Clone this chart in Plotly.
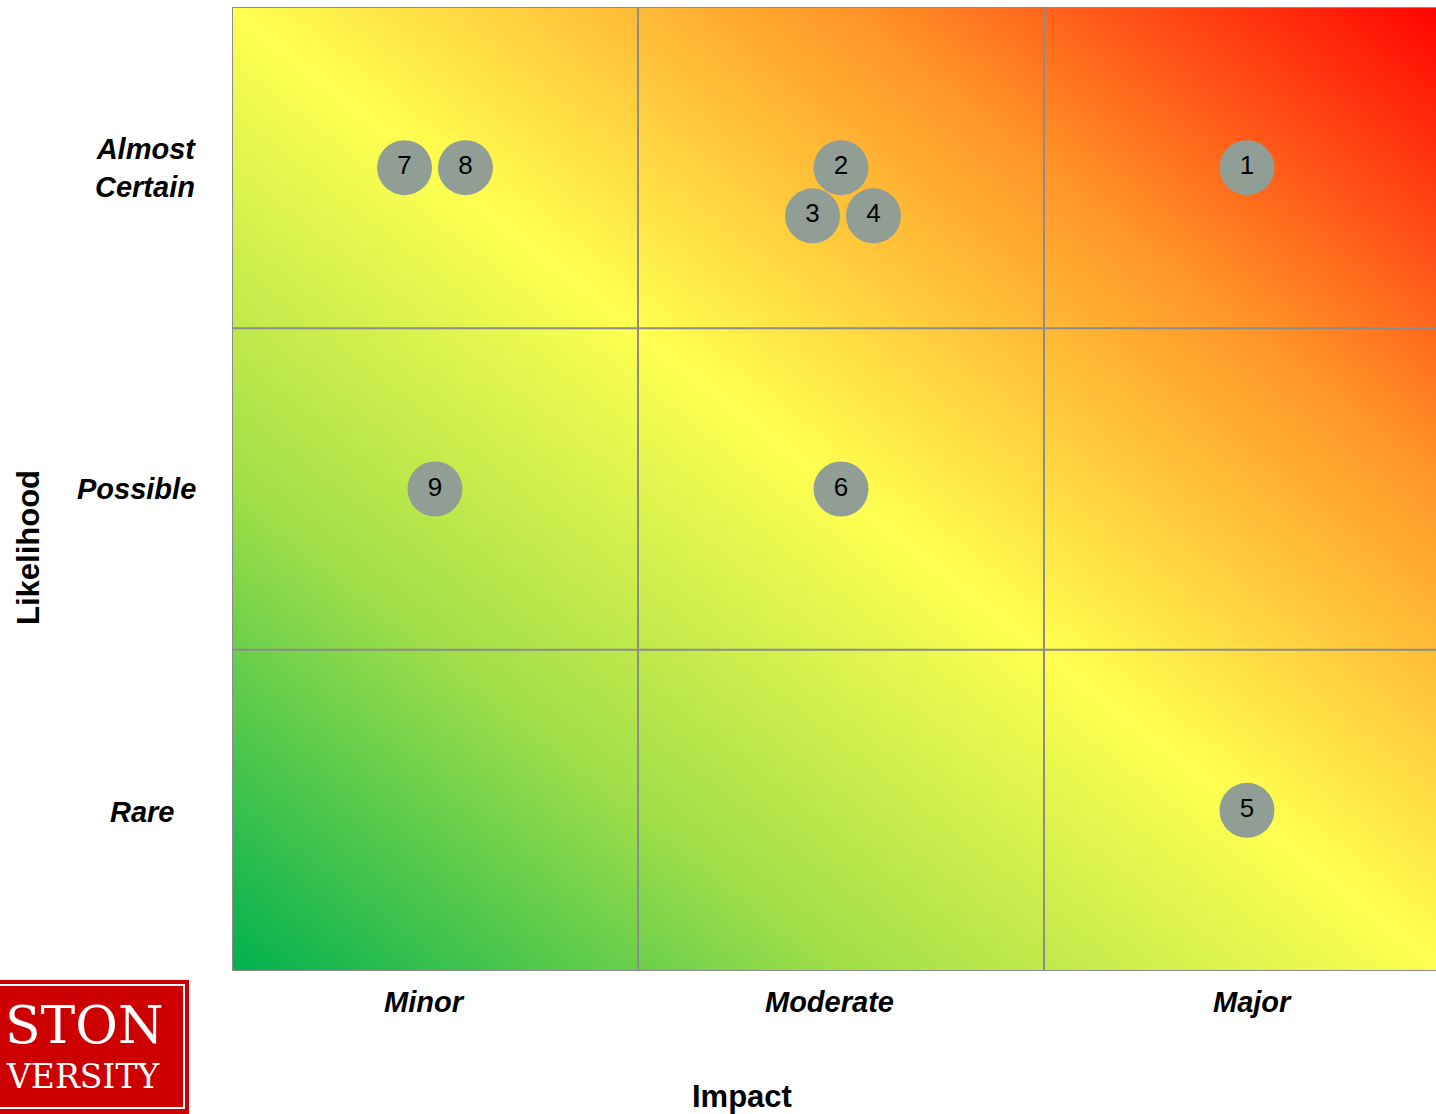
import numpy as np
import plotly.graph_objects as go

# Risk matrix axes
impact_levels = ["Minor", "Moderate", "Major"]
likelihood_levels = ["Rare", "Possible", "Almost Certain"]

# Numbered risks: impact score (0-3) and likelihood score (0-3)
risk_ids = ["1", "2", "3", "4", "5", "6", "7", "8", "9"]
impact_score = [2.50, 1.50, 1.43, 1.58, 2.50, 1.50, 0.425, 0.575, 0.50]
likelihood_score = [2.50, 2.50, 2.35, 2.35, 0.50, 1.50, 2.50, 2.50, 1.50]

# Layout in pixels
W, H = 1436, 1114
L, T, B = 232, 7, 143
CELL_W = 406
plot_w = W - L
x_max = plot_w / CELL_W

GRID = "#8C8C8C"
BUBBLE = "#909E96"
FONT = "Liberation Sans, Arial, sans-serif"
SERIF = "DejaVu Serif, Liberation Serif, serif"

# Diagonal risk gradient over the full 3x3 matrix
n = 240
gx = np.linspace(0, 3, n)
gy = np.linspace(0, 3, n)
GX, GY = np.meshgrid(gx, gy)
heat = (GX / 3 + GY / 3) / 2
scale = [
    [0.0, "rgb(0,176,80)"],
    [0.25, "rgb(158,222,72)"],
    [0.5, "rgb(255,255,80)"],
    [0.75, "rgb(255,150,40)"],
    [1.0, "rgb(255,0,0)"],
]

fig = go.Figure()
fig.add_trace(go.Heatmap(
    x=gx, y=gy, z=heat, colorscale=scale, zmin=0, zmax=1,
    zsmooth="best", showscale=False, hoverinfo="skip",
))
fig.add_trace(go.Scatter(
    x=impact_score, y=likelihood_score, text=risk_ids,
    mode="markers+text", textposition="middle center",
    marker=dict(size=55, color=BUBBLE, line=dict(width=0)),
    textfont=dict(family=FONT, size=26, color="#000000"),
    hoverinfo="skip", showlegend=False,
))

shapes = []
for v in [0, 1, 2]:
    shapes.append(dict(type="line", xref="x", yref="y", x0=v, x1=v, y0=0, y1=3,
                       line=dict(color=GRID, width=2)))
for v in [0, 1, 2, 3]:
    shapes.append(dict(type="line", xref="x", yref="y", x0=0, x1=3, y0=v, y1=v,
                       line=dict(color=GRID, width=2)))

# Logo block in the lower-left corner
def px_x(p):
    return (p - L) / plot_w

def px_y(p):
    return (H - B - p) / (H - T - B)

shapes.append(dict(type="rect", xref="paper", yref="paper",
                   x0=px_x(-5), x1=px_x(189), y0=px_y(1120), y1=px_y(980),
                   fillcolor="#CC0000", line=dict(width=0), layer="above"))
shapes.append(dict(type="rect", xref="paper", yref="paper",
                   x0=px_x(-10), x1=px_x(184), y0=px_y(1108), y1=px_y(985),
                   fillcolor="rgba(0,0,0,0)", line=dict(color="white", width=2), layer="above"))

annotations = []
# Likelihood labels
annotations.append(dict(xref="paper", yref="y", x=0, y=2.5, xshift=-34, xanchor="right",
                        yanchor="middle", align="right", showarrow=False,
                        text="<b><i>Almost<br>Certain</i></b>",
                        font=dict(family=FONT, size=29, color="#000000")))
annotations.append(dict(xref="paper", yref="y", x=0, y=1.5, xshift=-34, xanchor="right",
                        yanchor="middle", showarrow=False, text="<b><i>Possible</i></b>",
                        font=dict(family=FONT, size=29, color="#000000")))
annotations.append(dict(xref="paper", yref="y", x=0, y=0.5, xshift=-90, yshift=-2,
                        xanchor="center", yanchor="middle", showarrow=False,
                        text="<b><i>Rare</i></b>",
                        font=dict(family=FONT, size=29, color="#000000")))
# Impact labels
for i, (lab, dx) in enumerate(zip(impact_levels, [-11, -12, 5])):
    annotations.append(dict(xref="x", yref="paper", x=i + 0.5, y=0, xshift=dx, yshift=-31,
                            xanchor="center", yanchor="middle", showarrow=False,
                            text=f"<b><i>{lab}</i></b>",
                            font=dict(family=FONT, size=29, color="#000000")))
# Axis titles
annotations.append(dict(xref="paper", yref="paper", x=px_x(742), y=0, yshift=-125,
                        xanchor="center", yanchor="middle", showarrow=False,
                        text="<b>Impact</b>", font=dict(family=FONT, size=31, color="#000000")))
annotations.append(dict(xref="paper", yref="paper", x=px_x(28), y=px_y(548),
                        xanchor="center", yanchor="middle", textangle=-90, showarrow=False,
                        text="<b>Likelihood</b>", font=dict(family=FONT, size=31, color="#000000")))
# Logo text
annotations.append(dict(xref="paper", yref="paper", x=px_x(165), y=px_y(1025),
                        xanchor="right", yanchor="middle", showarrow=False,
                        text="STON", font=dict(family=SERIF, size=52, color="white")))
annotations.append(dict(xref="paper", yref="paper", x=px_x(162), y=px_y(1076),
                        xanchor="right", yanchor="middle", showarrow=False,
                        text="VERSITY", font=dict(family=SERIF, size=33, color="white")))

fig.update_layout(
    width=W, height=H,
    margin=dict(l=L, r=0, t=T, b=B, pad=0),
    paper_bgcolor="white", plot_bgcolor="white",
    xaxis=dict(range=[0, x_max], showgrid=False, zeroline=False, showticklabels=False,
               ticks="", fixedrange=True),
    yaxis=dict(range=[0, 3], showgrid=False, zeroline=False, showticklabels=False,
               ticks="", fixedrange=True),
    shapes=shapes, annotations=annotations, showlegend=False,
)

fig.write_html("out.html", config={"displayModeBar": False})
